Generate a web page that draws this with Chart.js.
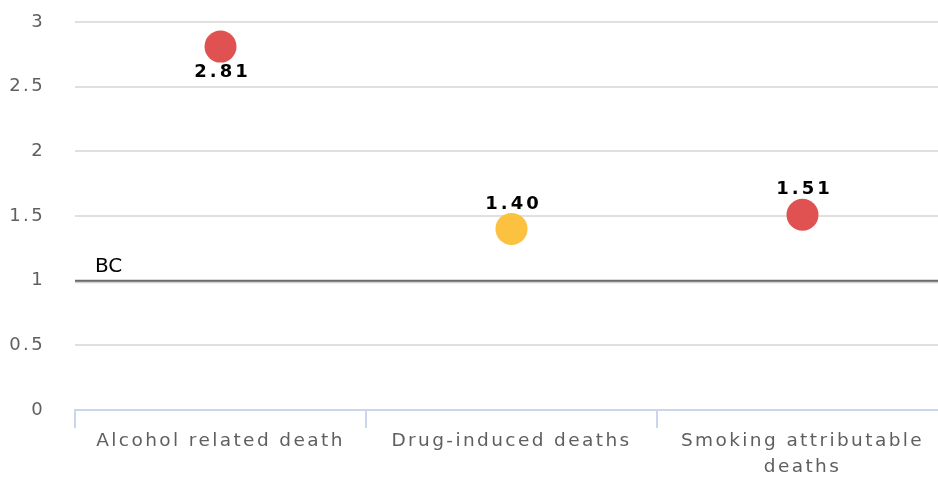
<!DOCTYPE html>
<html>
<head>
<meta charset="utf-8">
<script src="https://cdn.jsdelivr.net/npm/chart.js@4"></script>
<style>
  html, body { margin: 0; padding: 0; background: #fff; overflow: hidden; }
  canvas { display: block; }
</style>
</head>
<body>
<canvas id="riskChart" width="948" height="478"></canvas>
<script>
// Chart data
const categories = ['Alcohol related death', 'Drug-induced deaths', ['Smoking attributable', 'deaths']];
const values = [2.81, 1.40, 1.51];
const pointColors = ['#E05252', '#FBC13F', '#E05252'];
const yTicks = [0, 0.5, 1, 1.5, 2, 2.5, 3];
const baseline = 1;
const baselineLabel = 'BC';

// letter spacing for all canvas text
const spacing = {
    id: 'spacing',
    beforeLayout(chart) { chart.ctx.letterSpacing = '2.4px'; },
    beforeDraw(chart) { chart.ctx.letterSpacing = '2.4px'; }
};

// BC reference line
const baseLine = {
    id: 'baseLine',
    beforeDatasetsDraw(chart) {
        const { ctx, chartArea } = chart;
        const y = chart.scales.y.getPixelForValue(baseline);
        ctx.save();
        ctx.strokeStyle = '#d0d0d0';
        ctx.lineWidth = 2;
        ctx.beginPath();
        ctx.moveTo(chartArea.left, y + 1.5);
        ctx.lineTo(chartArea.right, y + 1.5);
        ctx.stroke();
        ctx.strokeStyle = '#6b6b6b';
        ctx.lineWidth = 2;
        ctx.beginPath();
        ctx.moveTo(chartArea.left, y);
        ctx.lineTo(chartArea.right, y);
        ctx.stroke();
        ctx.fillStyle = '#000';
        ctx.font = '20px "DejaVu Sans"';
        ctx.letterSpacing = '0px';
        ctx.textBaseline = 'bottom';
        ctx.fillText(baselineLabel, chartArea.left + 20, y - 4);
        ctx.restore();
    }
};

// value labels
const valueLabels = {
    id: 'valueLabels',
    afterDatasetsDraw(chart) {
        const { ctx } = chart;
        const meta = chart.getDatasetMeta(0);
        ctx.save();
        ctx.font = 'bold 18px "DejaVu Sans"';
        ctx.letterSpacing = '3px';
        ctx.fillStyle = '#000';
        ctx.textAlign = 'center';
        ctx.textBaseline = 'middle';
        meta.data.forEach((pt, i) => {
            const v = values[i];
            const dy = v > 2.6 ? 26 : -25;
            ctx.fillText(v.toFixed(2), pt.x + 2, pt.y + dy);
        });
        ctx.restore();
    }
};

const ctx = document.getElementById('riskChart').getContext('2d');
new Chart(ctx, {
    type: 'line',
    data: {
        labels: categories,
        datasets: [{
            data: values,
            showLine: false,
            pointRadius: 16,
            pointHoverRadius: 16,
            pointBorderWidth: 0,
            pointBackgroundColor: pointColors,
            pointBorderColor: pointColors
        }]
    },
    options: {
        responsive: false,
        animation: false,
        events: [],
        layout: { autoPadding: false, padding: { left: 0, top: 22, right: 0, bottom: 0 } },
        plugins: {
            legend: { display: false },
            tooltip: { enabled: false }
        },
        scales: {
            x: {
                offset: true,
                border: { color: '#ccd6eb', width: 2 },
                grid: {
                    offset: true,
                    drawOnChartArea: false,
                    color: '#ccd6eb',
                    lineWidth: 2,
                    tickLength: 18
                },
                ticks: {
                    color: '#5f5f5f',
                    font: { family: 'DejaVu Sans', size: 18.5, lineHeight: 1.4 },
                    padding: 0,
                    maxRotation: 0
                },
                afterFit(axis) {
                    axis.height = 68;
                    axis.paddingLeft = 0;
                    axis.paddingRight = 0;
                }
            },
            y: {
                min: 0,
                max: 3,
                afterBuildTicks(axis) { axis.ticks = yTicks.map(v => ({ value: v })); },
                border: { display: false },
                grid: {
                    color: (c) => c.tick.value === 0 ? 'rgba(0,0,0,0)' : '#e0e0e0',
                    lineWidth: 2,
                    drawTicks: false
                },
                ticks: {
                    color: '#5f5f5f',
                    font: { family: 'DejaVu Sans', size: 18 },
                    padding: 30,
                    callback: (v) => String(v)
                },
                afterFit(axis) {
                    axis.width = 75;
                    axis.paddingTop = 0;
                    axis.paddingBottom = 0;
                }
            }
        }
    },
    plugins: [spacing, baseLine, valueLabels]
});
</script>
</body>
</html>
